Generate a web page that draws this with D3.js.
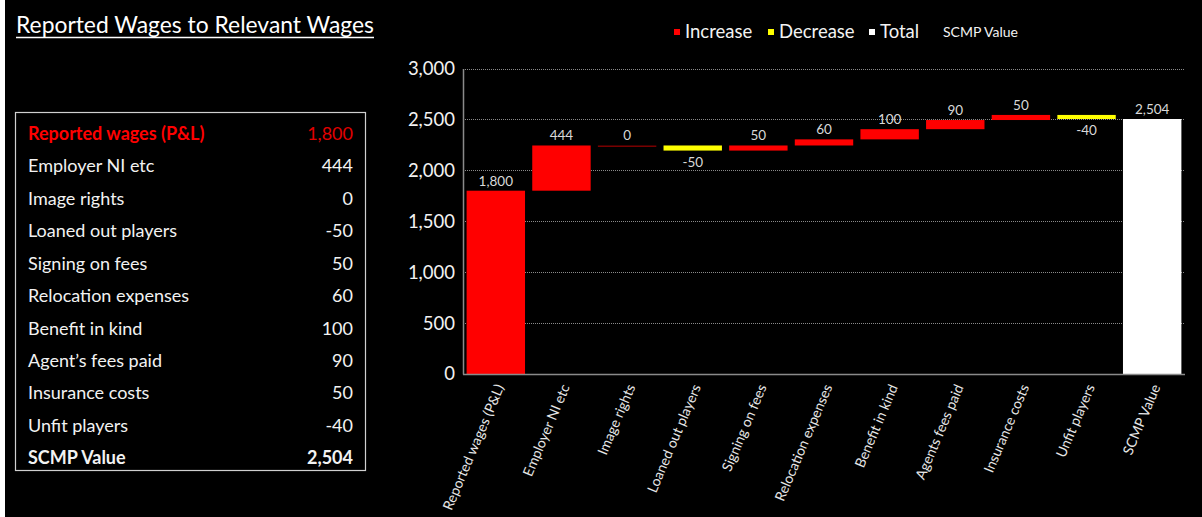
<!DOCTYPE html>
<html>
<head>
<meta charset="utf-8">
<script src="https://cdn.jsdelivr.net/npm/d3@7"></script>
<style>
  html, body { margin: 0; padding: 0; background: #fff; }
  svg { display: block; }
</style>
</head>
<body>
<svg id="chart" width="1202" height="517"></svg>
<script>
// ---- Data ----
const categories = ["Reported wages (P&L)", "Employer NI etc", "Image rights", "Loaned out players",
  "Signing on fees", "Relocation expenses", "Benefit in kind", "Agents fees paid",
  "Insurance costs", "Unfit players", "SCMP Value"];
const tableLabels = ["Reported wages (P&L)", "Employer NI etc", "Image rights", "Loaned out players",
  "Signing on fees", "Relocation expenses", "Benefit in kind", "Agent\u2019s fees paid",
  "Insurance costs", "Unfit players", "SCMP Value"];
const values = [1800, 444, 0, -50, 50, 60, 100, 90, 50, -40, 2504];
const kinds = ["increase", "increase", "increase", "decrease", "increase", "increase",
  "increase", "increase", "increase", "decrease", "total"];
const yTicks = [0, 500, 1000, 1500, 2000, 2500, 3000];
const legendItems = ["Increase", "Decrease", "Total"];

// ---- Setup ----
const svg = d3.select("#chart");
const W = 1202, H = 517;
const font = "Lato, 'Open Sans', sans-serif";
svg.append("rect").attr("width", W).attr("height", H).attr("fill", "#000");
svg.append("rect").attr("x", 0).attr("y", 0).attr("width", 5).attr("height", H).attr("fill", "#fff");

// Title
svg.append("text").attr("x", 16).attr("y", 33)
  .attr("fill", "#fff").attr("font-family", font).attr("font-size", 24)
  .attr("textLength", 358).attr("lengthAdjust", "spacingAndGlyphs")
  .text("Reported Wages to Relevant Wages");
svg.append("line").attr("x1", 16).attr("x2", 374).attr("y1", 37.5).attr("y2", 37.5)
  .attr("stroke", "#fff").attr("stroke-width", 1.5);

// ---- Table ----
svg.append("rect").attr("x", 15.5).attr("y", 112.5).attr("width", 350).attr("height", 358)
  .attr("fill", "none").attr("stroke", "#d0d0d0").attr("stroke-width", 1.2);
const locale = d3.formatLocale({ decimal: ".", thousands: ",", grouping: [3], currency: ["", ""], minus: "-" });
const fmt = locale.format(",");
const rowY = d3.scalePoint().domain(d3.range(values.length)).range([133.5, 458]);
const rows = svg.append("g").selectAll("g").data(values).join("g")
  .attr("transform", (d, i) => `translate(0,${rowY(i)})`);
rows.append("text").attr("x", 28).attr("dy", "0.35em")
  .attr("font-family", font).attr("font-size", 18)
  .attr("font-weight", (d, i) => (i === 0 || i === values.length - 1) ? "bold" : "normal")
  .attr("fill", (d, i) => i === 0 ? "#ff0000" : "#f2f2f2")
  .text((d, i) => tableLabels[i]);
rows.append("text").attr("x", 353).attr("dy", "0.35em").attr("text-anchor", "end")
  .attr("font-family", font).attr("font-size", 18)
  .attr("font-weight", (d, i) => i === values.length - 1 ? "bold" : "normal")
  .attr("fill", (d, i) => i === 0 ? "#e00000" : "#f2f2f2")
  .text(d => fmt(d));

// ---- Waterfall ----
const plot = { left: 463, right: 1185, top: 68.5, bottom: 374 };
const x = d3.scaleBand().domain(categories).range([plot.left, plot.right]).paddingInner(0.11).paddingOuter(0.055);
const y = d3.scaleLinear().domain([0, 3000]).range([plot.bottom, plot.top]);

let cum = 0;
const segs = values.map((v, i) => {
  let start, end;
  if (kinds[i] === "total" || i === 0) { start = 0; end = v; cum = v; }
  else { start = cum; end = cum + v; cum = end; }
  return { cat: categories[i], v, kind: kinds[i], start, end };
});

// gridlines
svg.append("g").selectAll("line").data(yTicks.filter(t => t > 0)).join("line")
  .attr("x1", plot.left).attr("x2", plot.right)
  .attr("y1", d => Math.round(y(d)) + 0.5).attr("y2", d => Math.round(y(d)) + 0.5)
  .attr("stroke", "#8a8a8a").attr("stroke-width", 1).attr("stroke-dasharray", "1,1");

// y axis
const yAxis = d3.axisLeft(y).tickValues(yTicks).tickFormat(fmt).tickSize(0).tickPadding(8);
const ya = svg.append("g").attr("transform", `translate(${plot.left},0)`).call(yAxis);
ya.select(".domain").attr("stroke", "#8a8a8a").attr("stroke-width", 1.5);
ya.selectAll("text").attr("fill", "#f2f2f2").attr("font-family", font).attr("font-size", 18.5);

// bars
const colorOf = d => d.kind === "total" ? "#ffffff" : d.kind === "decrease" ? "#ffff00" : (d.v === 0 ? "#7a0000" : "#ff0000");
svg.append("g").selectAll("rect").data(segs).join("rect")
  .attr("x", d => x(d.cat)).attr("width", x.bandwidth())
  .attr("y", d => y(Math.max(d.start, d.end)))
  .attr("height", d => Math.max(1.5, Math.abs(y(d.start) - y(d.end))))
  .attr("fill", colorOf);

// x axis baseline
svg.append("line").attr("x1", plot.left).attr("x2", plot.right)
  .attr("y1", plot.bottom + 0.5).attr("y2", plot.bottom + 0.5)
  .attr("stroke", "#8a8a8a").attr("stroke-width", 1.5);

// data labels
svg.append("g").selectAll("text").data(segs).join("text")
  .attr("x", d => x(d.cat) + x.bandwidth() / 2)
  .attr("y", d => d.kind === "decrease" ? y(Math.min(d.start, d.end)) + 16 : y(Math.max(d.start, d.end)) - 5)
  .attr("text-anchor", "middle").attr("fill", "#d9d9d9")
  .attr("font-family", font).attr("font-size", 13.5)
  .text(d => fmt(d.v));

// x labels
svg.append("g").selectAll("text").data(categories).join("text")
  .attr("transform", d => `translate(${x(d) + x.bandwidth() / 2 + 4},${plot.bottom + 11}) rotate(-67)`)
  .attr("text-anchor", "end").attr("dy", "0.35em")
  .attr("fill", "#e6e6e6").attr("font-family", font).attr("font-size", 14)
  .text(d => d);

// ---- Legend ----
const legColors = ["#ff0000", "#ffff00", "#ffffff"];
const legX = [674, 768, 869];
const lg = svg.append("g");
legendItems.forEach((name, i) => {
  lg.append("rect").attr("x", legX[i]).attr("y", 29).attr("width", 6).attr("height", 6).attr("fill", legColors[i]);
  lg.append("text").attr("x", legX[i] + 11).attr("y", 32).attr("dy", "0.35em")
    .attr("fill", "#f2f2f2").attr("font-family", font).attr("font-size", 18.5).text(name);
});
lg.append("text").attr("x", 943).attr("y", 32).attr("dy", "0.35em")
  .attr("fill", "#f2f2f2").attr("font-family", font).attr("font-size", 14).text("SCMP Value");
</script>
</body>
</html>
